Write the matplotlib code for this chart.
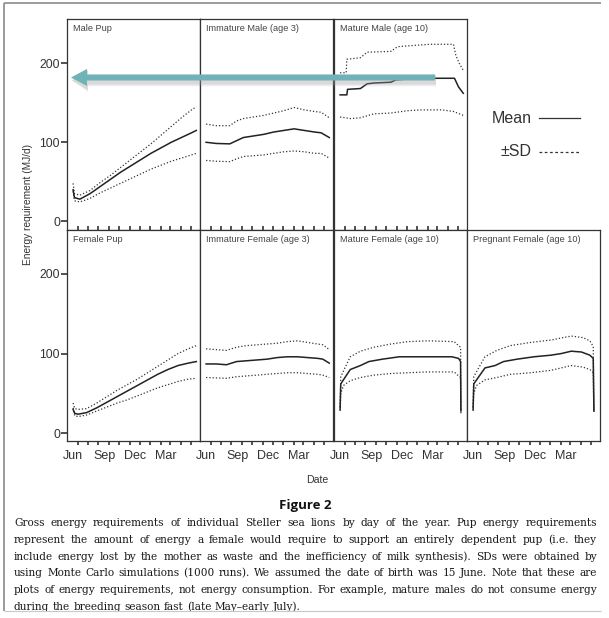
import matplotlib
matplotlib.use('Agg')
import matplotlib.pyplot as plt
from matplotlib.patches import FancyArrow
from matplotlib.lines import Line2D

W, H = 609, 618
SANS = ['Liberation Sans', 'DejaVu Sans']
SERIF = ['DejaVu Serif']
plt.rcParams['font.family'] = SANS

# ---------------- data (day 0 = 1 June) ----------------
MONTH_TICKS = [14, 44, 75, 106, 136, 167, 197, 228, 259, 287, 318, 348]   # 15th of each month
LABEL_DAYS = [0, 92, 183, 273]
LABELS = ['Jun', 'Sep', 'Dec', 'Mar']
Y_TICKS = [0, 100, 200]

MP_DAYS = [0, 4, 20, 50, 80, 110, 140, 170, 200, 230, 260, 290, 320, 350, 364]
MP_MEAN = [40, 30, 28, 35, 44, 53, 62, 70, 78, 86, 93, 100, 106, 112, 115]
MP_UP = [48, 35, 33, 39, 49, 58, 68, 78, 88, 98, 109, 120, 131, 141, 145]
MP_LO = [38, 26, 24.5, 29, 36, 42, 48, 54, 60, 66, 71, 76, 80, 84, 86]

IM_DAYS = [0, 30, 70, 90, 110, 140, 170, 200, 230, 260, 290, 320, 340, 364]
IM_MEAN = [100, 98.5, 98, 102, 106, 108, 110, 113, 115, 117, 115, 113, 112, 106]
IM_UP = [123, 121, 121, 127, 130, 132, 134, 137, 140, 144, 141, 139, 138, 131]
IM_LO = [77, 76, 75.5, 79, 82, 83, 84, 86, 88, 89, 88, 86, 86, 80]

MM_MEAN_DAYS = [0, 20, 22, 60, 80, 100, 150, 165, 200, 230, 300, 338, 350, 364]
MM_MEAN = [160, 160, 167, 168, 174, 175, 176, 179, 180, 181, 181, 181, 170, 162]
MM_UP_DAYS = [0, 18, 20, 60, 80, 150, 170, 200, 265, 335, 342, 352, 364]
MM_UP = [188, 188, 205, 207, 214, 215, 221, 222, 224, 224, 210, 200, 191]
MM_LO_DAYS = [0, 30, 60, 100, 150, 200, 240, 300, 335, 364]
MM_LO = [132, 130, 131, 136, 137, 140, 141, 141, 139, 134]

FP_DAYS = [0, 5, 15, 40, 70, 100, 130, 160, 190, 220, 250, 280, 310, 340, 364]
FP_MEAN = [30, 25, 24, 26, 32, 39, 46, 53, 60, 67, 74, 80, 85, 88, 90]
FP_UP = [38, 31, 30, 31, 38, 46, 54, 61, 68, 76, 84, 92, 100, 106, 110]
FP_LO = [32, 22, 21, 23, 28, 33, 38, 42, 47, 52, 57, 61, 65, 68, 69]

IF_DAYS = [0, 30, 60, 90, 120, 150, 180, 210, 240, 270, 300, 330, 345, 364]
IF_MEAN = [87, 87, 86, 90, 91, 92, 93, 95, 96, 96, 95, 94, 93, 88]
IF_UP = [106, 105, 104, 108, 110, 111, 112, 113, 115, 116, 114, 112, 111, 105]
IF_LO = [70, 69.5, 69, 71, 72, 73, 74, 75, 76, 76, 75, 74, 73, 70]

MF_MEAN_DAYS = [0, 2, 30, 60, 85, 125, 175, 250, 330, 350, 356, 357]
MF_MEAN = [30, 62, 80, 85, 90, 93, 96, 96, 96, 94, 90, 28]
MF_UP_DAYS = [0, 2, 30, 60, 100, 150, 200, 260, 337, 350, 356, 357]
MF_UP = [33, 71, 96, 103, 108, 112, 115, 116, 115, 110, 108, 28]
MF_LO_DAYS = [0, 2, 10, 30, 60, 100, 150, 200, 260, 337, 350, 356, 357]
MF_LO = [28, 50, 60, 66, 70, 73, 75, 76, 77, 77, 72, 70, 25]

PF_MEAN_DAYS = [0, 2, 35, 65, 90, 130, 180, 230, 260, 290, 320, 345, 355, 357]
PF_MEAN = [30, 62, 82, 85, 90, 93, 96, 98, 100, 103, 102, 98, 94, 28]
PF_UP_DAYS = [0, 2, 35, 70, 110, 170, 230, 290, 325, 345, 355, 357]
PF_UP = [33, 71, 96, 104, 110, 114, 117, 122, 120, 116, 109, 28]
PF_LO_DAYS = [0, 2, 10, 35, 70, 110, 170, 230, 290, 325, 345, 355, 357]
PF_LO = [28, 50, 60, 67, 70, 74, 76, 79, 85, 83, 80, 76, 25]

ARROW_LEVEL = 182

PANELS = [
    (0, 0, 'Male Pup', (MP_DAYS, MP_MEAN), (MP_DAYS, MP_UP), (MP_DAYS, MP_LO)),
    (0, 1, 'Immature Male (age 3)', (IM_DAYS, IM_MEAN), (IM_DAYS, IM_UP), (IM_DAYS, IM_LO)),
    (0, 2, 'Mature Male (age 10)', (MM_MEAN_DAYS, MM_MEAN), (MM_UP_DAYS, MM_UP), (MM_LO_DAYS, MM_LO)),
    (1, 0, 'Female Pup', (FP_DAYS, FP_MEAN), (FP_DAYS, FP_UP), (FP_DAYS, FP_LO)),
    (1, 1, 'Immature Female (age 3)', (IF_DAYS, IF_MEAN), (IF_DAYS, IF_UP), (IF_DAYS, IF_LO)),
    (1, 2, 'Mature Female (age 10)', (MF_MEAN_DAYS, MF_MEAN), (MF_UP_DAYS, MF_UP), (MF_LO_DAYS, MF_LO)),
    (1, 3, 'Pregnant Female (age 10)', (PF_MEAN_DAYS, PF_MEAN), (PF_UP_DAYS, PF_UP), (PF_LO_DAYS, PF_LO)),
]

CAPTION = [
    "Gross energy requirements of individual Steller sea lions by day of the year. Pup energy requirements",
    "represent the amount of energy a female would require to support an entirely dependent pup (i.e. they",
    "include energy lost by the mother as waste and the inefficiency of milk synthesis). SDs were obtained by",
    "using Monte Carlo simulations (1000 runs). We assumed the date of birth was 15 June. Note that these are",
    "plots of energy requirements, not energy consumption. For example, mature males do not consume energy",
    "during the breeding season fast (late May\u2013early July).",
]

# ---------------- layout ----------------
fig = plt.figure(figsize=(W / 100, H / 100), dpi=100)
COL_LEFT = [67, 200, 334, 467]
COL_W = 133
ROW_TOP = [19, 230]
ROW_H = [211, 210.5]
YLIMS = [(-11, 256), (-9, 255)]
XLIM = (-18, 375)
LINE_C = '#222222'
TEXT_C = '#333333'

axes = {}
for (r, c, title, mean, up, lo) in PANELS:
    left = COL_LEFT[c] / W
    bottom = 1 - (ROW_TOP[r] + ROW_H[r]) / H
    ax = fig.add_axes([left, bottom, COL_W / W, ROW_H[r] / H])
    axes[(r, c)] = ax
    ax.plot(up[0], up[1], color='#333333', lw=0.9, ls=(0, (1, 1.6)))
    ax.plot(lo[0], lo[1], color='#333333', lw=0.9, ls=(0, (1, 1.6)))
    ax.plot(mean[0], mean[1], color=LINE_C, lw=1.1)
    ax.set_xlim(*XLIM)
    ax.set_ylim(*YLIMS[r])
    for s in ax.spines.values():
        s.set_color('#333333')
        s.set_linewidth(0.9)
    ax.text(0.043, 0.975, title, transform=ax.transAxes, ha='left', va='top',
            fontsize=6.6, color='#444444')
    ax.set_xticks(MONTH_TICKS)
    ax.set_xticklabels([])
    if r == 0:
        ax.tick_params(axis='x', direction='inout', length=5.5, width=1.1, color='#222222')
    else:
        ax.tick_params(axis='x', direction='out', length=3.2, width=1.1, color='#222222')
        ax.set_xticks(LABEL_DAYS, minor=True)
        ax.set_xticklabels(LABELS, minor=True)
        ax.tick_params(axis='x', which='minor', length=0, pad=6.5, labelsize=9, labelcolor=TEXT_C)
    if c == 0:
        ax.set_yticks(Y_TICKS)
        ax.tick_params(axis='y', direction='out', length=4, width=1.1, color='#222222',
                       labelsize=8.8, labelcolor=TEXT_C, pad=1)
    else:
        ax.set_yticks([])

fig.text(28 / W, 1 - 204 / H, 'Energy requirement (MJ/d)', rotation=90, ha='center', va='center',
         fontsize=7.3, color=TEXT_C)
fig.text(317 / W, 1 - 480 / H, 'Date', ha='center', va='center', fontsize=7.6, color=TEXT_C)

# legend
fig.text(531.5 / W, 1 - 118 / H, 'Mean', ha='right', va='center', fontsize=11.5, color='#333333')
fig.text(531.5 / W, 1 - 152 / H, '±SD', ha='right', va='center', fontsize=11.5, color='#333333')
fig.add_artist(Line2D([539 / W, 580 / W], [1 - 118 / H, 1 - 118 / H], color='#333333', lw=0.9))
fig.add_artist(Line2D([539 / W, 580 / W], [1 - 152 / H, 1 - 152 / H], color='#333333', lw=0.9,
                      ls=(0, (2.2, 2.0))))

# overlay in pixel units (y from top)
ov = fig.add_axes([0, 0, 1, 1], zorder=10)
ov.set_xlim(0, W)
ov.set_ylim(H, 0)
ov.axis('off')

ov.plot([4, 4], [3, 611], color='#8a8a8a', lw=1.2, solid_capstyle='butt')
ov.plot([4, 601], [3, 3], color='#8a8a8a', lw=1.2, solid_capstyle='butt')
ov.plot([4, 601], [611, 611], color='#c8c8c8', lw=0.8, solid_capstyle='butt')

ax_ref = axes[(0, 0)]
y_disp = ax_ref.transData.transform((0, ARROW_LEVEL))[1]
ay = H - y_disp
x_tail, x_tip = 435, 71
for k, a in [(3.0, 0.10), (2.0, 0.14), (1.0, 0.18)]:
    ov.add_patch(FancyArrow(x_tail + 1, ay + 3, x_tip - x_tail, 0, width=6 + 2 * k,
                            head_width=17 + 2 * k, head_length=16, length_includes_head=True,
                            color='#9a9a9a', alpha=a, lw=0))
ov.add_patch(FancyArrow(x_tail, ay, x_tip - x_tail, 0, width=6, head_width=17, head_length=16,
                        length_includes_head=True, color='#6fb2b7', lw=0))

# caption
fig.text(305 / W, 1 - 505 / H, 'Figure 2', ha='center', va='center', fontsize=9.5,
         fontweight='bold', color='#111111', family=['Open Sans', 'DejaVu Sans'])

renderer = fig.canvas.get_renderer()
X0, X1 = 14, 597
Y_FIRST, DY = 526, 16.8

def natural_width(s, fs):
    t = fig.text(0, 0, s, fontsize=fs, family=SERIF)
    w = t.get_window_extent(renderer).width
    t.remove()
    return w

CAP_FS = 8.8
widest = max(natural_width(s, CAP_FS) for s in CAPTION[:-1])
if widest > (X1 - X0) * 0.99:
    CAP_FS *= (X1 - X0) * 0.99 / widest
space_w = natural_width('a a', CAP_FS) - natural_width('aa', CAP_FS)

for i, line in enumerate(CAPTION):
    words = line.split(' ')
    y = 1 - (Y_FIRST + i * DY) / H
    texts = [fig.text(0, y, w, fontsize=CAP_FS, family=SERIF, color='#1a1a1a', va='baseline')
             for w in words]
    widths = [t.get_window_extent(renderer).width for t in texts]
    if i < len(CAPTION) - 1:
        gap = (X1 - X0 - sum(widths)) / (len(words) - 1)
    else:
        gap = space_w
    x = X0
    for t, wd in zip(texts, widths):
        t.set_x(x / W)
        x += wd + gap

fig.savefig('out.png', dpi=100)
